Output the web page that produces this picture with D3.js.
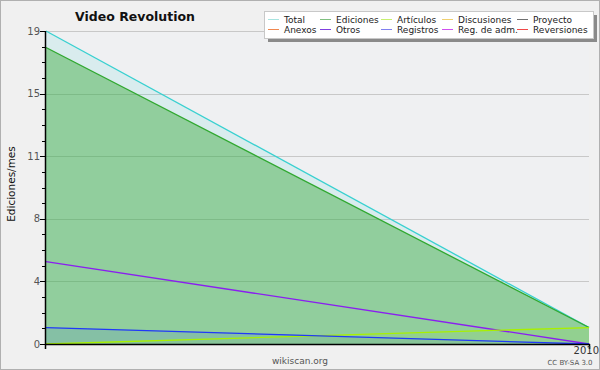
<!DOCTYPE html>
<html>
<head>
<meta charset="utf-8">
<script src="https://cdn.jsdelivr.net/npm/d3@7"></script>
<style>
  body { margin: 0; background: #f0f0f0; }
  svg { display: block; font-family: "DejaVu Sans", sans-serif; }
</style>
</head>
<body>
<div id="chart"></div>
<script>
// data
const months = ["2009-12", "2010-01"];
const total = [19, 1];
const ediciones = [18, 1];
const articulos = [0, 1];
const otros = [5, 0];
const registros = [1, 0];
const yTickLabels = ["0", "4", "8", "11", "15", "19"];
const legendNames = ["Total", "Ediciones", "Artículos", "Discusiones", "Proyecto",
                     "Anexos", "Otros", "Registros", "Reg. de adm.", "Reversiones"];
const legendColors = ["#a8e4e0", "#80c080", "#c8f070", "#f0d070", "#707070",
                      "#f08850", "#8040e0", "#8080f0", "#d050f0", "#f04848"];

const width = 600, height = 370;
const margin = {top: 31, right: 11, bottom: 26, left: 46};

const svg = d3.select('#chart').append('svg')
  .attr('width', width)
  .attr('height', height);

svg.append('rect')
  .attr('x', 0.5).attr('y', 0.5)
  .attr('width', width - 1).attr('height', height - 1)
  .attr('fill', '#f0f0f0')
  .attr('stroke', '#b0b0b0');

const parse = d3.timeParse('%Y-%m');
const dates = months.map(parse);

const x = d3.scaleTime()
  .domain(d3.extent(dates))
  .range([margin.left, width - margin.right]);

const y = d3.scaleLinear()
  .domain([0, 19])
  .range([height - margin.bottom, margin.top]);

// plot background
svg.append('rect')
  .attr('x', x.range()[0]).attr('y', y(19))
  .attr('width', x.range()[1] - x.range()[0])
  .attr('height', y(0) - y(19))
  .attr('fill', '#eff0f2');

// grid lines at the labelled ticks
const major = d3.range(6).map(i => i * 19 / 5);
svg.append('g')
  .selectAll('line')
  .data(major)
  .join('line')
  .attr('x1', x.range()[0]).attr('x2', x.range()[1])
  .attr('y1', d => Math.round(y(d)) + 0.5).attr('y2', d => Math.round(y(d)) + 0.5)
  .attr('stroke', '#c8c8c8');

const pts = vals => vals.map((v, i) => ({date: dates[i], v}));

const area = d3.area().x(d => x(d.date)).y0(y(0)).y1(d => y(d.v));
const line = d3.line().x(d => x(d.date)).y(d => y(d.v));

const areas = [
  {vals: total, fill: '#3cd2d2', op: 0.12},
  {vals: ediciones, fill: '#3aaa3a', op: 0.45},
  {vals: registros, fill: '#2040f0', op: 0.1},
  {vals: articulos, fill: '#a0f000', op: 0.08}
];
svg.append('g')
  .selectAll('path')
  .data(areas)
  .join('path')
  .attr('d', d => area(pts(d.vals)))
  .attr('fill', d => d.fill)
  .attr('fill-opacity', d => d.op);

const lines = [
  {vals: total, color: '#38d0d0'},
  {vals: ediciones, color: '#30a830'},
  {vals: otros, color: '#8a1ef0'},
  {vals: articulos, color: '#a8f000'},
  {vals: registros, color: '#2038f8'}
];
svg.append('g')
  .selectAll('path')
  .data(lines)
  .join('path')
  .attr('d', d => line(pts(d.vals)))
  .attr('fill', 'none')
  .attr('stroke', d => d.color)
  .attr('stroke-width', 1.3);

// y axis: labelled ticks + minor ticks
const minor = d3.range(21).map(i => i * 19 / 20);
const yAxis = svg.append('g').attr('transform', `translate(${margin.left},0)`);
yAxis.selectAll('line.minor')
  .data(minor)
  .join('line')
  .attr('class', 'minor')
  .attr('x1', -4).attr('x2', 0)
  .attr('y1', d => Math.round(y(d)) + 0.5).attr('y2', d => Math.round(y(d)) + 0.5)
  .attr('stroke', '#000');
yAxis.selectAll('line.major')
  .data(major)
  .join('line')
  .attr('class', 'major')
  .attr('x1', -6).attr('x2', 0)
  .attr('y1', d => Math.round(y(d)) + 0.5).attr('y2', d => Math.round(y(d)) + 0.5)
  .attr('stroke', '#000');
yAxis.selectAll('text')
  .data(major)
  .join('text')
  .attr('x', -6).attr('y', d => y(d) + 3.5)
  .attr('text-anchor', 'end')
  .attr('font-size', 10)
  .attr('fill', '#555')
  .text((d, i) => yTickLabels[i]);
yAxis.append('line')
  .attr('x1', -0.5).attr('x2', -0.5)
  .attr('y1', y(19)).attr('y2', y(0) + 5)
  .attr('stroke', '#000').attr('stroke-width', 1.5);

// x axis
const xAxis = svg.append('g');
xAxis.append('line')
  .attr('x1', x.range()[0]).attr('x2', x.range()[1] + 1)
  .attr('y1', y(0) + 0.5).attr('y2', y(0) + 0.5)
  .attr('stroke', '#000').attr('stroke-width', 1.5);
const xt = x.ticks(d3.timeYear.every(1));
xAxis.selectAll('line.tick')
  .data(xt)
  .join('line')
  .attr('class', 'tick')
  .attr('x1', d => x(d) + 0.5).attr('x2', d => x(d) + 0.5)
  .attr('y1', y(0)).attr('y2', y(0) + 5)
  .attr('stroke', '#000').attr('stroke-width', 1.5);
xAxis.selectAll('text')
  .data(xt)
  .join('text')
  .attr('x', 599).attr('y', y(0) + 10)
  .attr('text-anchor', 'end')
  .attr('font-size', 10)
  .attr('fill', '#333')
  .text(d3.timeFormat('%Y'));

// titles
svg.append('text')
  .attr('x', 135).attr('y', 21)
  .attr('text-anchor', 'middle')
  .attr('font-size', 12.5)
  .attr('font-weight', 'bold')
  .attr('fill', '#111')
  .text('Video Revolution');

svg.append('text')
  .attr('transform', 'translate(15,184) rotate(-90)')
  .attr('text-anchor', 'middle')
  .attr('font-size', 10.5)
  .attr('fill', '#111')
  .text('Ediciones/mes');

svg.append('text')
  .attr('x', 300).attr('y', 364)
  .attr('text-anchor', 'middle')
  .attr('font-size', 9)
  .attr('fill', '#555')
  .text('wikiscan.org');

svg.append('text')
  .attr('x', 570).attr('y', 365)
  .attr('text-anchor', 'middle')
  .attr('font-size', 7)
  .attr('fill', '#555')
  .text('CC BY-SA 3.0');

// legend
const lg = svg.append('g');
lg.append('rect')
  .attr('x', 268).attr('y', 15).attr('width', 329).attr('height', 27)
  .attr('fill', '#8a8a8a');
lg.append('rect')
  .attr('x', 264.5).attr('y', 11.5).attr('width', 329).attr('height', 27)
  .attr('fill', '#fff').attr('stroke', '#c8c8c8');
const colX = [268, 320, 381, 442, 517];
const rowY = [19, 29];
const items = lg.selectAll('g.item')
  .data(legendNames)
  .join('g')
  .attr('class', 'item')
  .attr('transform', (d, i) => `translate(${colX[i % 5]},${rowY[Math.floor(i / 5)]})`);
items.append('line')
  .attr('x1', 0).attr('x2', 11)
  .attr('y1', 0.5).attr('y2', 0.5)
  .attr('stroke', (d, i) => legendColors[i]);
items.append('text')
  .attr('x', 16).attr('y', 4)
  .attr('font-size', 9)
  .attr('fill', '#222')
  .text(d => d);
</script>
</body>
</html>
